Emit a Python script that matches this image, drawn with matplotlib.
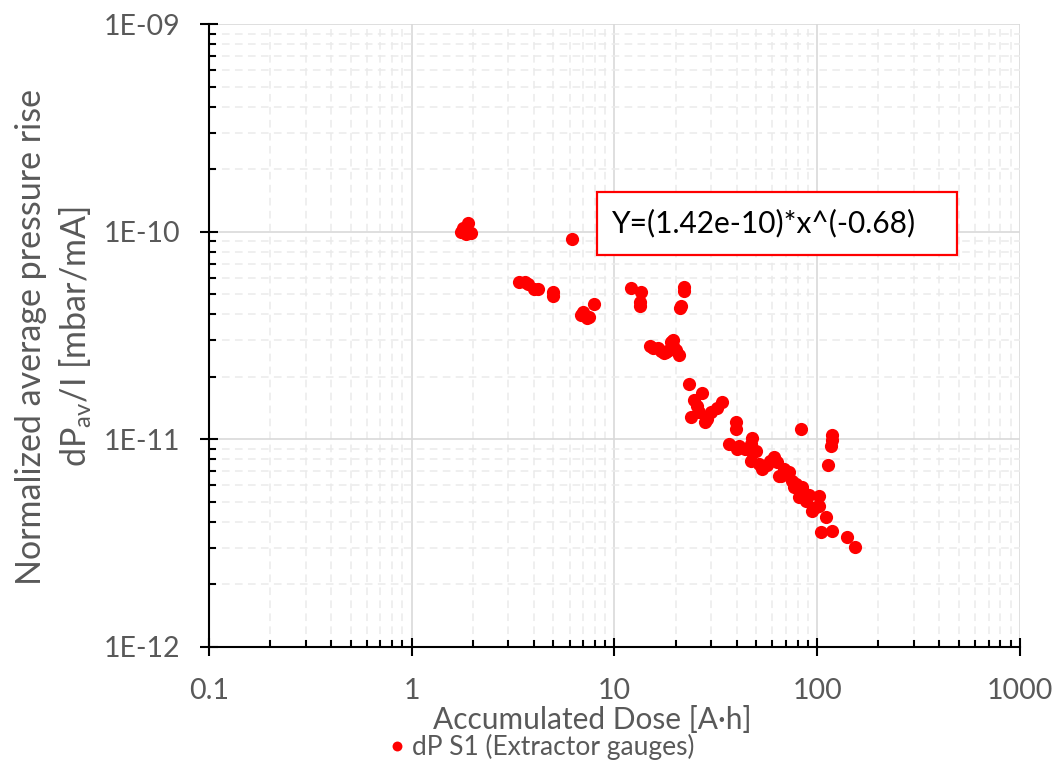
import numpy as np
import matplotlib
matplotlib.use("Agg")
import matplotlib.pyplot as plt
from matplotlib.patches import Rectangle
from matplotlib.ticker import LogLocator, NullFormatter

plt.rcParams['font.family'] = ['Lato', 'DejaVu Sans']
plt.rcParams['mathtext.fontset'] = 'custom'
plt.rcParams['mathtext.rm'] = 'Lato'
plt.rcParams['mathtext.it'] = 'Lato:italic'

# data: accumulated dose [A*h] and dP_av/I [mbar/mA]
dose = [1.75, 1.8, 1.9, 1.95, 1.85,
        6.15,
        3.4, 3.6, 3.75, 4.0, 4.2, 5.0, 5.0,
        6.8, 7.0, 7.3, 7.5, 7.9,
        12.0, 13.5, 13.3, 13.3,
        22.0, 22.0, 21.2, 21.0,
        15.0, 15.5, 16.3, 17.0, 17.6, 18.5, 19.0, 19.5, 19.5, 20.0, 20.7, 18.0,
        23.4, 27.1, 25.6, 23.9, 26.2, 27.8, 30.0, 32.2, 34.0, 28.5, 24.6,
        39.9, 39.9, 36.9, 41.3, 40.4, 47.9, 47.3, 47.9, 50.1, 47.3, 44.0,
        51.8, 53.6, 56.7, 61.4, 63.5, 65.0, 68.8, 72.8, 66.5, 58.5, 75.5,
        77.0, 78.8, 84.4, 81.5, 88.3, 91.3, 102.3, 102.3, 94.5, 98.9, 86.0,
        110.7, 104.6, 118.6, 140.5, 153.9,
        83.4, 118.6, 118.6, 117.2, 113.3]
dp_norm = [1.0e-10, 1.04e-10, 1.1e-10, 0.98e-10, 0.97e-10,
           9.2e-11,
           5.7e-11, 5.75e-11, 5.6e-11, 5.3e-11, 5.3e-11, 5.1e-11, 4.9e-11,
           3.95e-11, 4.1e-11, 3.85e-11, 3.9e-11, 4.5e-11,
           5.35e-11, 5.1e-11, 4.6e-11, 4.4e-11,
           5.4e-11, 5.2e-11, 4.4e-11, 4.3e-11,
           2.8e-11, 2.75e-11, 2.75e-11, 2.65e-11, 2.6e-11, 2.7e-11, 2.95e-11, 3.0e-11, 2.8e-11, 2.7e-11, 2.55e-11, 2.62e-11,
           1.84e-11, 1.68e-11, 1.44e-11, 1.28e-11, 1.36e-11, 1.21e-11, 1.35e-11, 1.42e-11, 1.51e-11, 1.25e-11, 1.55e-11,
           1.21e-11, 1.12e-11, 9.46e-12, 9.25e-12, 8.95e-12, 1.02e-11, 9.46e-12, 8.66e-12, 8.76e-12, 7.84e-12, 9.0e-12,
           7.58e-12, 7.18e-12, 7.5e-12, 8.19e-12, 7.75e-12, 6.64e-12, 7.18e-12, 6.94e-12, 6.64e-12, 7.9e-12, 6.3e-12,
           5.87e-12, 6.08e-12, 5.87e-12, 5.26e-12, 5.03e-12, 5.38e-12, 5.32e-12, 4.76e-12, 4.51e-12, 4.71e-12, 5.5e-12,
           4.22e-12, 3.57e-12, 3.61e-12, 3.38e-12, 3.03e-12,
           1.12e-11, 1.045e-11, 9.9e-12, 9.25e-12, 7.5e-12]

x_ticks = [0.1, 1, 10, 100, 1000]
x_labels = ["0.1", "1", "10", "100", "1000"]
y_ticks = [1e-12, 1e-11, 1e-10, 1e-9]
y_labels = ["1E-12", "1E-11", "1E-10", "1E-09"]
fit_text = "Y=(1.42e-10)*x^(-0.68)"
series_name = "dP S1 (Extractor gauges)"

gray = "#595959"

fig = plt.figure(figsize=(10.56, 7.6), dpi=100)
ax = fig.add_axes([0.1979, 0.1487, 0.768, 0.8197])

ax.plot(dose, dp_norm, 'o', color='#ff0000', markersize=9.5,
        markeredgewidth=0, label=series_name, zorder=3)

ax.set_xscale('log')
ax.set_yscale('log')
ax.set_xlim(0.1, 1000)
ax.set_ylim(1e-12, 1e-9)

ax.set_xticks(x_ticks)
ax.set_xticklabels(x_labels)
ax.set_yticks(y_ticks)
ax.set_yticklabels(y_labels)
ax.xaxis.set_minor_locator(LogLocator(base=10, subs=np.arange(2, 10)))
ax.yaxis.set_minor_locator(LogLocator(base=10, subs=np.arange(2, 10)))
ax.xaxis.set_minor_formatter(NullFormatter())
ax.yaxis.set_minor_formatter(NullFormatter())

ax.grid(True, which='major', color='#d9d9d9', lw=1.2)
ax.grid(True, which='minor', color='#ebebeb', lw=1.1, ls=(0, (5, 3.5)))
ax.set_axisbelow(True)

for s in ['top', 'right']:
    ax.spines[s].set_visible(False)
for s in ['left', 'bottom']:
    ax.spines[s].set_color('black')
    ax.spines[s].set_linewidth(1.5)

ax.tick_params(which='major', direction='inout', length=13, width=1.5,
               labelsize=20.5, labelcolor=gray, color='black')
ax.tick_params(axis='x', which='major', pad=16)
ax.tick_params(axis='y', which='major', pad=14)
ax.tick_params(which='minor', direction='in', length=5, width=1.5, color='black')

# axis titles
fig.text(0.561, 0.052, "Accumulated Dose [A\u00b7h]", ha='center', va='center',
         fontsize=21.5, color=gray)
fig.text(0.029, 0.557, "Normalized average pressure rise", rotation=90,
         ha='center', va='center', fontsize=24.5, color=gray)
fig.text(0.072, 0.557, r"dP$_{\mathrm{av}}$/I [mbar/mA]", rotation=90,
         ha='center', va='center', fontsize=24.5, color=gray)

# fit equation box
fig.patches.append(Rectangle((0.5653, 0.6645), 0.341, 0.0829, transform=fig.transFigure,
                             facecolor='white', edgecolor='#ff0000', lw=1.6, zorder=5))
fig.text(0.5795, 0.706, fit_text, ha='left', va='center', fontsize=21.5,
         color='black', zorder=6)

fig.legend(loc='center left', bbox_to_anchor=(0.353, 0.017), frameon=False,
           fontsize=19, labelcolor=gray, markerscale=0.75, handletextpad=0.1,
           handlelength=1.0, borderaxespad=0)

fig.savefig("out.png", dpi=100)
